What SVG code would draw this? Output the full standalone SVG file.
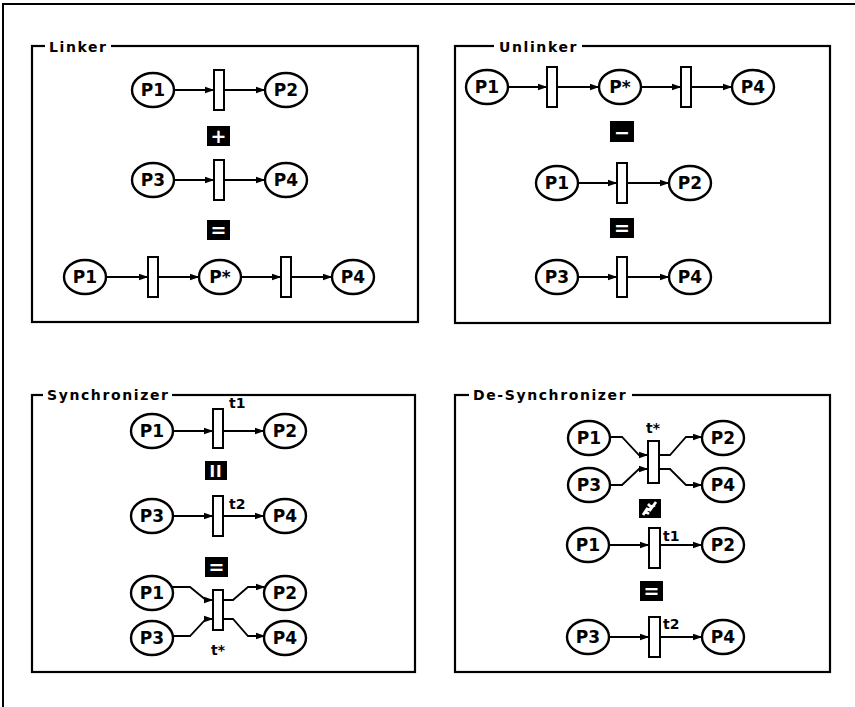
<svg xmlns="http://www.w3.org/2000/svg" width="855" height="707" viewBox="0 0 855 707">
<style>
.frame{fill:none;stroke:#000;stroke-width:2}
.panel{fill:none;stroke:#000;stroke-width:2.2}
.ttl{font-family:"DejaVu Sans",sans-serif;font-weight:bold;font-size:14px;letter-spacing:1.6px;fill:#000}
.tbg{fill:#fff}
.pl ellipse{fill:#fff;stroke:#000;stroke-width:2.4}
.lbl{font-family:"DejaVu Sans",sans-serif;font-weight:bold;font-size:17px;text-anchor:middle;fill:#000}
.tr rect{fill:#fff;stroke:#000;stroke-width:2}
.tl{font-family:"DejaVu Sans",sans-serif;font-weight:bold;font-size:14px;fill:#000}
.op rect{fill:#000}
.opt{font-family:"DejaVu Sans",sans-serif;font-weight:bold;font-size:19px;text-anchor:middle;fill:#fff}
.conn path{fill:none;stroke:#000;stroke-width:1.8;marker-end:url(#ah)}
</style>
<defs>
<marker id="ah" markerWidth="10" markerHeight="8" refX="9.5" refY="4" orient="auto" markerUnits="userSpaceOnUse">
<path d="M0,0.5 L10,4 L0,7.5 z" fill="#000"/>
</marker>
</defs>
<rect width="855" height="707" fill="#fff"/>
<rect class="frame" x="3" y="4" width="870" height="720"/>

<!-- Panels -->
<g id="panel-linker">
<rect class="panel" x="32" y="46" width="386" height="276"/>
<rect class="tbg" x="45" y="38" width="66" height="16"/>
<text class="ttl" x="49" y="52">Linker</text>
</g>
<g id="panel-unlinker">
<rect class="panel" x="455" y="46" width="375" height="277"/>
<rect class="tbg" x="494" y="38" width="88" height="16"/>
<text class="ttl" x="499" y="52">Unlinker</text>
</g>
<g id="panel-sync">
<rect class="panel" x="32" y="395" width="383" height="277"/>
<rect class="tbg" x="43" y="386" width="129" height="18"/>
<text class="ttl" x="47" y="400">Synchronizer</text>
</g>
<g id="panel-desync">
<rect class="panel" x="455" y="395" width="375" height="277"/>
<rect class="tbg" x="469" y="386" width="163" height="18"/>
<text class="ttl" x="473" y="400">De-Synchronizer</text>
</g>

<!-- Connectors -->
<g id="connectors" class="conn">
<!-- Linker -->
<path d="M174,90 H214"/>
<path d="M224,90 H265"/>
<path d="M174,180 H214"/>
<path d="M224,180 H265"/>
<path d="M106,277 H148"/>
<path d="M158,277 H199"/>
<path d="M241,277 H281"/>
<path d="M291,277 H332"/>
<!-- Unlinker -->
<path d="M508,87 H547"/>
<path d="M557,87 H599"/>
<path d="M641,87 H681"/>
<path d="M691,87 H732"/>
<path d="M578,183 H617"/>
<path d="M627,183 H669"/>
<path d="M578,277 H617"/>
<path d="M627,277 H669"/>
<!-- Synchronizer -->
<path d="M173,431 H213"/>
<path d="M223,431 H264"/>
<path d="M173,516 H213"/>
<path d="M223,516 H264"/>
<path d="M171,587 H190 L206,600 H213"/>
<path d="M171,636 H190 L206,619 H213"/>
<path d="M223,600 H233 L248,587 H265"/>
<path d="M223,619 H233 L248,636 H265"/>
<!-- De-Synchronizer -->
<path d="M610,437 H622 L639,455 H648"/>
<path d="M610,485 H622 L639,469 H648"/>
<path d="M659,455 H670 L686,437 H702"/>
<path d="M659,469 H670 L686,485 H702"/>
<path d="M609,545 H649"/>
<path d="M660,545 H702"/>
<path d="M609,637 H649"/>
<path d="M660,637 H702"/>
</g>

<!-- Linker nodes -->
<g id="L-P1a" class="pl"><ellipse cx="153" cy="90" rx="21" ry="17"/><text class="lbl" x="153" y="96">P1</text></g>
<g id="L-T1" class="tr"><rect x="214" y="70" width="10" height="40"/></g>
<g id="L-P2" class="pl"><ellipse cx="286" cy="90" rx="21" ry="17"/><text class="lbl" x="286" y="96">P2</text></g>
<g id="L-plus" class="op"><rect x="207" y="126" width="23" height="20"/><text class="opt" x="218.5" y="143">+</text></g>
<g id="L-P3" class="pl"><ellipse cx="153" cy="180" rx="21" ry="17"/><text class="lbl" x="153" y="186">P3</text></g>
<g id="L-T2" class="tr"><rect x="214" y="160" width="10" height="40"/></g>
<g id="L-P4a" class="pl"><ellipse cx="286" cy="180" rx="21" ry="17"/><text class="lbl" x="286" y="186">P4</text></g>
<g id="L-eq" class="op"><rect x="207" y="220" width="23" height="20"/><text class="opt" x="218.5" y="237">=</text></g>
<g id="L-P1b" class="pl"><ellipse cx="85" cy="277" rx="21" ry="17"/><text class="lbl" x="85" y="283">P1</text></g>
<g id="L-T3" class="tr"><rect x="148" y="257" width="10" height="40"/></g>
<g id="L-Pstar" class="pl"><ellipse cx="220" cy="277" rx="21" ry="17"/><text class="lbl" x="220" y="283">P*</text></g>
<g id="L-T4" class="tr"><rect x="281" y="257" width="10" height="40"/></g>
<g id="L-P4b" class="pl"><ellipse cx="353" cy="277" rx="21" ry="17"/><text class="lbl" x="353" y="283">P4</text></g>

<!-- Unlinker nodes -->
<g id="U-P1a" class="pl"><ellipse cx="487" cy="87" rx="21" ry="17"/><text class="lbl" x="487" y="93">P1</text></g>
<g id="U-T1" class="tr"><rect x="547" y="67" width="10" height="40"/></g>
<g id="U-Pstar" class="pl"><ellipse cx="620" cy="87" rx="21" ry="17"/><text class="lbl" x="620" y="93">P*</text></g>
<g id="U-T2" class="tr"><rect x="681" y="67" width="10" height="40"/></g>
<g id="U-P4a" class="pl"><ellipse cx="753" cy="87" rx="21" ry="17"/><text class="lbl" x="753" y="93">P4</text></g>
<g id="U-minus" class="op"><rect x="610" y="121" width="24" height="21"/><text class="opt" x="622" y="138.5">−</text></g>
<g id="U-P1b" class="pl"><ellipse cx="557" cy="183" rx="21" ry="17"/><text class="lbl" x="557" y="189">P1</text></g>
<g id="U-T3" class="tr"><rect x="617" y="163" width="10" height="40"/></g>
<g id="U-P2" class="pl"><ellipse cx="690" cy="183" rx="21" ry="17"/><text class="lbl" x="690" y="189">P2</text></g>
<g id="U-eq" class="op"><rect x="610" y="218" width="24" height="20"/><text class="opt" x="622" y="235">=</text></g>
<g id="U-P3" class="pl"><ellipse cx="557" cy="277" rx="21" ry="17"/><text class="lbl" x="557" y="283">P3</text></g>
<g id="U-T4" class="tr"><rect x="617" y="257" width="10" height="40"/></g>
<g id="U-P4b" class="pl"><ellipse cx="690" cy="277" rx="21" ry="17"/><text class="lbl" x="690" y="283">P4</text></g>

<!-- Synchronizer nodes -->
<g id="S-P1a" class="pl"><ellipse cx="152" cy="431" rx="21" ry="17"/><text class="lbl" x="152" y="437">P1</text></g>
<g id="S-T1" class="tr"><rect x="213" y="409" width="10" height="39"/><text class="tl" x="229" y="408">t1</text></g>
<g id="S-P2a" class="pl"><ellipse cx="285" cy="431" rx="21" ry="17"/><text class="lbl" x="285" y="437">P2</text></g>
<g id="S-par" class="op"><rect x="205" y="461" width="22" height="19"/><text class="opt" x="216" y="476.5" style="font-size:15px;letter-spacing:1px">II</text></g>
<g id="S-P3a" class="pl"><ellipse cx="152" cy="516" rx="21" ry="17"/><text class="lbl" x="152" y="522">P3</text></g>
<g id="S-T2" class="tr"><rect x="213" y="496" width="10" height="40"/><text class="tl" x="229" y="509">t2</text></g>
<g id="S-P4a" class="pl"><ellipse cx="285" cy="516" rx="21" ry="17"/><text class="lbl" x="285" y="522">P4</text></g>
<g id="S-eq" class="op"><rect x="205" y="557" width="23" height="20"/><text class="opt" x="216.5" y="574">=</text></g>
<g id="S-P1b" class="pl"><ellipse cx="152" cy="593" rx="21" ry="17"/><text class="lbl" x="152" y="599">P1</text></g>
<g id="S-P3b" class="pl"><ellipse cx="152" cy="638" rx="21" ry="17"/><text class="lbl" x="152" y="644">P3</text></g>
<g id="S-Tstar" class="tr"><rect x="213" y="590" width="10" height="40"/><text class="tl" x="218" y="655" text-anchor="middle">t*</text></g>
<g id="S-P2b" class="pl"><ellipse cx="285" cy="593" rx="21" ry="17"/><text class="lbl" x="285" y="599">P2</text></g>
<g id="S-P4b" class="pl"><ellipse cx="285" cy="638" rx="21" ry="17"/><text class="lbl" x="285" y="644">P4</text></g>

<!-- De-Synchronizer nodes -->
<g id="D-P1a" class="pl"><ellipse cx="589" cy="438" rx="21" ry="17"/><text class="lbl" x="589" y="444">P1</text></g>
<g id="D-P3a" class="pl"><ellipse cx="589" cy="485" rx="21" ry="17"/><text class="lbl" x="589" y="491">P3</text></g>
<g id="D-Tstar" class="tr"><rect x="648" y="441" width="11" height="42"/><text class="tl" x="653" y="433" text-anchor="middle">t*</text></g>
<g id="D-P2a" class="pl"><ellipse cx="723" cy="438" rx="21" ry="17"/><text class="lbl" x="723" y="444">P2</text></g>
<g id="D-P4a" class="pl"><ellipse cx="723" cy="485" rx="21" ry="17"/><text class="lbl" x="723" y="491">P4</text></g>
<g id="D-notpar" class="op"><rect x="639" y="499" width="22" height="19"/><path d="M643,515 L647,509 L650,510 L656,502 M648,504 L651,507 L655,505 M645,511 L649,514" fill="none" stroke="#fff" stroke-width="2.8"/></g>
<g id="D-P1b" class="pl"><ellipse cx="588" cy="545" rx="21" ry="17"/><text class="lbl" x="588" y="551">P1</text></g>
<g id="D-T1" class="tr"><rect x="649" y="528" width="11" height="40"/><text class="tl" x="663" y="541">t1</text></g>
<g id="D-P2b" class="pl"><ellipse cx="723" cy="545" rx="21" ry="17"/><text class="lbl" x="723" y="551">P2</text></g>
<g id="D-eq" class="op"><rect x="640" y="581" width="23" height="20"/><text class="opt" x="651.5" y="598">=</text></g>
<g id="D-P3b" class="pl"><ellipse cx="588" cy="637" rx="21" ry="17"/><text class="lbl" x="588" y="643">P3</text></g>
<g id="D-T2" class="tr"><rect x="649" y="617" width="11" height="40"/><text class="tl" x="663" y="629">t2</text></g>
<g id="D-P4b" class="pl"><ellipse cx="723" cy="637" rx="21" ry="17"/><text class="lbl" x="723" y="643">P4</text></g>
</svg>
